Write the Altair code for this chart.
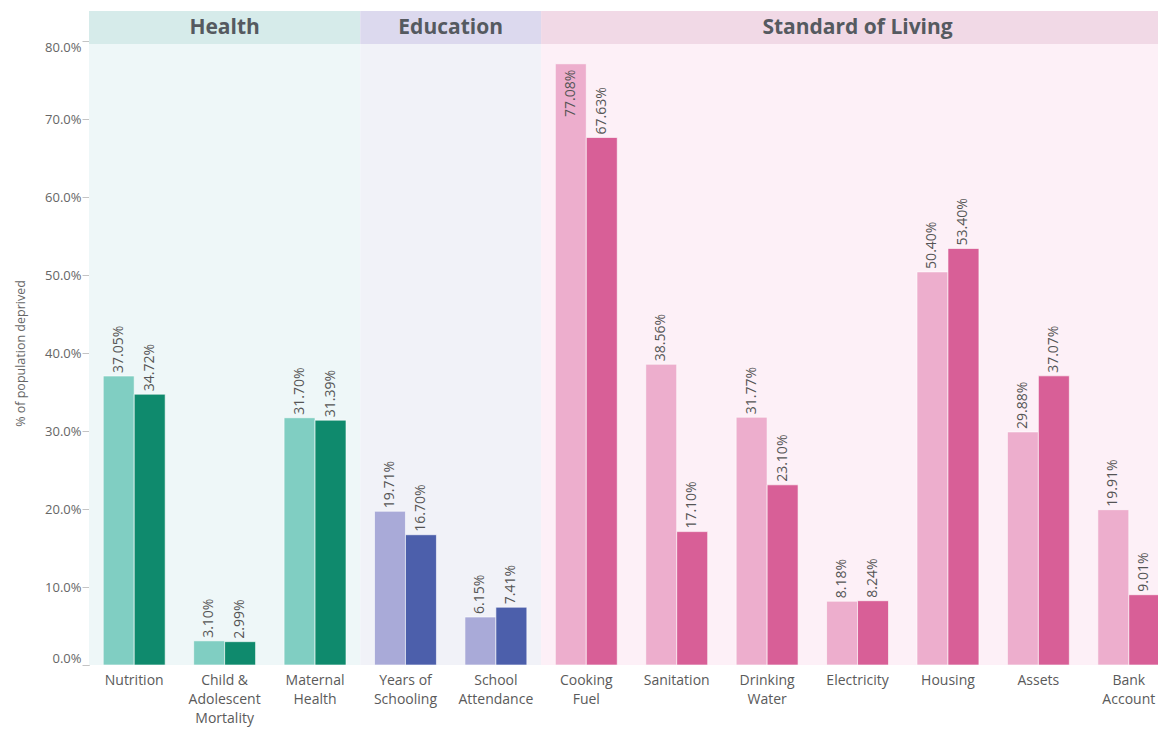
import altair as alt
import pandas as pd

# Indicator names ("|" marks a line break in the axis label)
indicators = [
    "Nutrition", "Child &|Adolescent|Mortality", "Maternal|Health",
    "Years of|Schooling", "School|Attendance",
    "Cooking|Fuel", "Sanitation", "Drinking|Water", "Electricity",
    "Housing", "Assets", "Bank|Account",
]
dimension_of = ["Health"] * 3 + ["Education"] * 2 + ["Standard of Living"] * 7

# Share of population deprived (%), two survey rounds
round_1 = [37.05, 3.10, 31.70, 19.71, 6.15, 77.08, 38.56, 31.77, 8.18, 50.40, 29.88, 19.91]
round_2 = [34.72, 2.99, 31.39, 16.70, 7.41, 67.63, 17.10, 23.10, 8.24, 53.40, 37.07, 9.01]
rounds = ["Round 1", "Round 2"]

# Dimension spans, in indicator slots
dimensions = ["Health", "Education", "Standard of Living"]
dim_start = [0, 3, 5]
dim_end = [3, 5, 12]

y_ticks = [0, 10, 20, 30, 40, 50, 60, 70, 80]

rows = []
for ind, dim, a, b in zip(indicators, dimension_of, round_1, round_2):
    rows.append({"indicator": ind, "dimension": dim, "round": rounds[0], "value": a})
    rows.append({"indicator": ind, "dimension": dim, "round": rounds[1], "value": b})
bars_df = pd.DataFrame(rows)
bars_df["tone"] = bars_df["dimension"] + " / " + bars_df["round"]

dims_df = pd.DataFrame({"dimension": dimensions, "start": dim_start, "end": dim_end})
dims_df["mid"] = (dims_df["start"] + dims_df["end"]) / 2

W, H = 1069, 624
RANGE = [0, 1085]
FONT = "Open Sans"

slot_scale = alt.Scale(domain=[0, 12], range=RANGE, nice=False, zero=False)
band_scale = alt.Scale(paddingInner=0.315, paddingOuter=0.1575, range=RANGE)
y_scale = alt.Scale(domain=[0, 80], nice=False)

tone_domain = [f"{d} / {r}" for d in dimensions for r in rounds]
tone_range = ["#80cec2", "#0f8a6d", "#a9aad8", "#4c5fab", "#edaecd", "#d85f97"]

# Panel backgrounds and dimension headers
body = alt.Chart(dims_df).mark_rect().encode(
    x=alt.X("start:Q", scale=slot_scale, axis=None),
    x2="end:Q",
    y=alt.value(3),
    y2=alt.value(H),
    color=alt.Color("dimension:N", legend=None,
                    scale=alt.Scale(domain=dimensions, range=["#eef7f8", "#f1f2f8", "#fdf0f7"])),
)
head = alt.Chart(dims_df).mark_rect().encode(
    x=alt.X("start:Q", scale=slot_scale, axis=None),
    x2="end:Q",
    y=alt.value(-30),
    y2=alt.value(3),
    fill=alt.Fill("dimension:N", legend=None,
                  scale=alt.Scale(domain=dimensions, range=["#d6ebea", "#dcd9ee", "#f1d9e6"])),
)
head_text = alt.Chart(dims_df).mark_text(
    font=FONT, fontSize=21, fontWeight="bold", color="#555a60", baseline="middle"
).encode(
    x=alt.X("mid:Q", scale=slot_scale, axis=None),
    y=alt.value(-13),
    text="dimension:N",
)
back = alt.layer(body, head, head_text)

x_band = alt.X(
    "indicator:N", sort=indicators, scale=band_scale, title=None,
    axis=alt.Axis(labelExpr="split(datum.label, '|')", labelAngle=0, domain=False, ticks=False,
                  labelFont=FONT, labelFontSize=14, labelColor="#5a5a5a", labelLineHeight=19,
                  labelPadding=8, labelBaseline="top"),
)
x_off = alt.XOffset("round:N", sort=rounds)
y_enc = alt.Y(
    "value:Q", scale=y_scale, title="% of population deprived",
    axis=alt.Axis(values=y_ticks, labelExpr="format(datum.value, '.1f') + '%'", grid=False,
                  labelFlush=True,
                  domainColor="#c4c4c4", tickColor="#c4c4c4", tickSize=7, labelPadding=1,
                  labelFont=FONT, labelFontSize=13, labelColor="#666666",
                  titleFont=FONT, titleFontSize=12.5, titleFontWeight="normal",
                  titleColor="#666666", titlePadding=17),
)

bars = alt.Chart(bars_df).mark_bar(stroke="white", strokeWidth=1, strokeOpacity=0.6).encode(
    x=x_band,
    xOffset=x_off,
    y=y_enc,
    color=alt.Color("tone:N", legend=None, scale=alt.Scale(domain=tone_domain, range=tone_range)),
)

label_base = alt.Chart(bars_df).transform_calculate(
    txt="format(datum.value, '.2f') + '%'"
)
label_style = dict(font=FONT, fontSize=14, color="#555555", angle=270, baseline="middle")
labels_out = label_base.transform_filter("datum.value <= 72").mark_text(
    align="left", dx=3, **label_style
).encode(
    x=x_band,
    xOffset=x_off,
    y=alt.Y("value:Q", scale=y_scale),
    text="txt:N",
)
labels_in = label_base.transform_filter("datum.value > 72").mark_text(
    align="right", dx=-6, **label_style
).encode(
    x=x_band,
    xOffset=x_off,
    y=alt.Y("value:Q", scale=y_scale),
    text="txt:N",
)
front = alt.layer(bars, labels_out, labels_in)

chart = alt.layer(back, front).resolve_scale(
    x="independent", color="independent"
).properties(
    width=W,
    height=H,
    autosize=alt.AutoSizeParams(type="none"),
    padding={"left": 89, "top": 41, "right": 0, "bottom": 63},
    background="white",
).configure_view(stroke=None)

chart.save("out.html", embed_options={"renderer": "svg", "actions": False})
